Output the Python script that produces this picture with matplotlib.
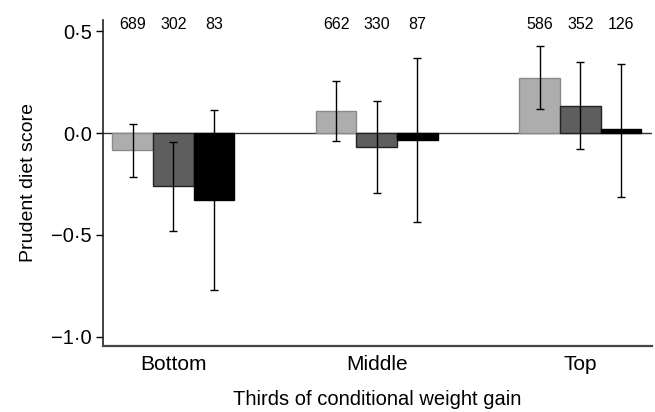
import matplotlib
matplotlib.use("Agg")
import matplotlib.pyplot as plt
import numpy as np

plt.rcParams['font.family'] = ['Liberation Sans', 'DejaVu Sans']

categories = ["Bottom", "Middle", "Top"]
counts = [[689, 302, 83], [662, 330, 87], [586, 352, 126]]
# means per subgroup (rows: categories, cols: subgroups)
means = [[-0.085, -0.26, -0.33],
         [0.108, -0.067, -0.036],
         [0.272, 0.133, 0.018]]
ci_low = [[-0.215, -0.482, -0.773],
          [-0.039, -0.293, -0.436],
          [0.118, -0.080, -0.313]]
ci_high = [[0.046, -0.043, 0.113],
           [0.256, 0.156, 0.369],
           [0.426, 0.349, 0.341]]
yticks = [-1.0, -0.5, 0.0, 0.5]

colors = ["#adadad", "#5e5e5e", "#000000"]
edges = ["#8a8a8a", "#222222", "#000000"]

fig = plt.figure(figsize=(6.55, 4.12), dpi=100)
ax = fig.add_axes([0.157, 0.161, 0.838, 0.79])

x = np.arange(len(categories))
w = 0.2
m = np.array(means)
lo = np.array(ci_low)
hi = np.array(ci_high)
for j in range(3):
    xs = x + (j - 1) * w
    ax.bar(xs, m[:, j], width=w, color=colors[j], edgecolor=edges[j],
           linewidth=1.0, zorder=2)
    ax.errorbar(xs, m[:, j], yerr=[m[:, j] - lo[:, j], hi[:, j] - m[:, j]],
                fmt='none', ecolor='black', elinewidth=1.0, capsize=3.2,
                capthick=1.0, zorder=3)
    for i in range(3):
        ax.text(xs[i], 0.535, str(counts[i][j]), ha='center', va='center',
                fontsize=11.5)

ax.axhline(0, color='#333333', linewidth=1.0, zorder=1)

ax.set_xlim(-0.346, 2.351)
ax.set_ylim(-1.045, 0.555)
ax.set_yticks(yticks)
ax.set_yticklabels([("−" if v < 0 else "") + f"{abs(v):.1f}".replace(".", "·") for v in yticks],
                   fontsize=14.5)
ax.set_xticks(x)
ax.set_xticklabels(categories, fontsize=15)
ax.tick_params(axis='x', length=0, pad=7)
ax.tick_params(axis='y', length=5, width=1.0, direction='out', pad=3)

for s in ['top', 'right']:
    ax.spines[s].set_visible(False)
ax.spines['left'].set_linewidth(1.2)
ax.spines['bottom'].set_linewidth(1.6)
ax.spines['bottom'].set_color('#444444')
ax.spines['left'].set_color('#222222')

ax.set_ylabel("Prudent diet score", fontsize=14, labelpad=10)
ax.set_xlabel("Thirds of conditional weight gain", fontsize=14.5, labelpad=11)

fig.savefig("out.png", dpi=100)
